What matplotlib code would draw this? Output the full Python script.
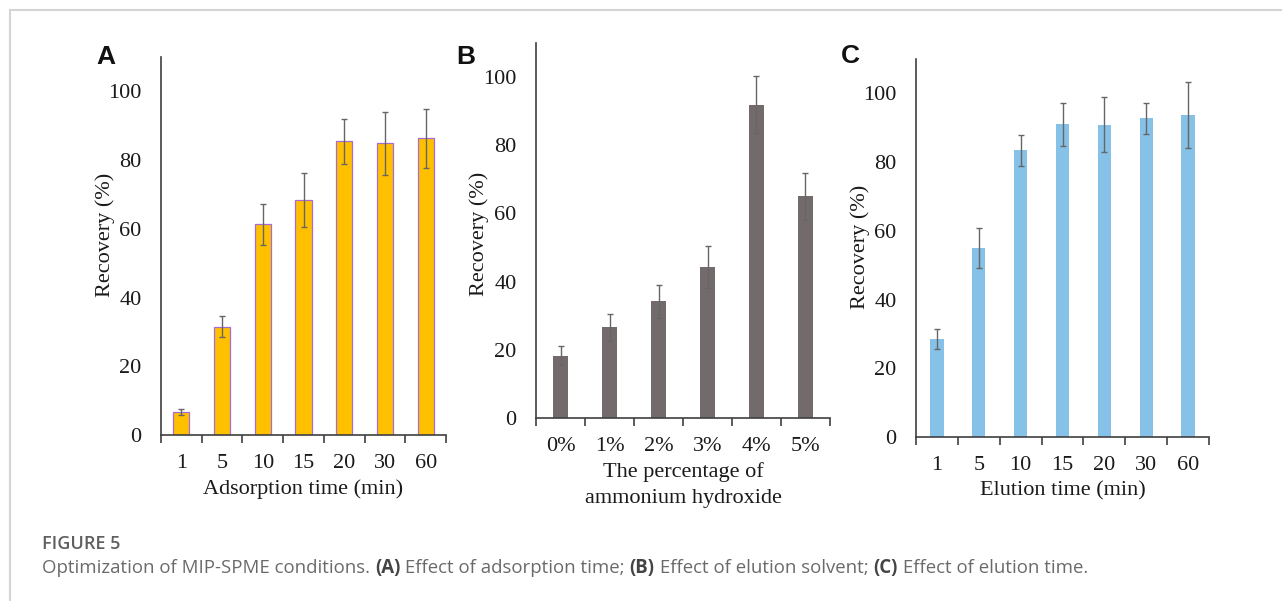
import matplotlib

matplotlib.use('Agg')
import matplotlib.pyplot as plt
from matplotlib.lines import Line2D

# -- data --------------------------------------------------------------------
adsorption_times = ['1', '5', '10', '15', '20', '30', '60']
adsorption_recovery = [6.6, 31.5, 61.3, 68.3, 85.5, 84.9, 86.3]
adsorption_err = [0.9, 3.0, 6.0, 7.8, 6.6, 9.2, 8.7]

nh4oh_levels = ['0%', '1%', '2%', '3%', '4%', '5%']
nh4oh_recovery = [18.3, 26.6, 34.2, 44.3, 91.9, 65.0]
nh4oh_err = [2.7, 3.9, 4.8, 6.1, 8.3, 6.8]

elution_times = ['1', '5', '10', '15', '20', '30', '60']
elution_recovery = [28.4, 55.0, 83.4, 91.0, 90.8, 92.8, 93.6]
elution_err = [2.9, 5.7, 4.4, 6.2, 8.0, 4.5, 9.6]

SERIF = 'Liberation Serif'
TEXT_COLOR = '#1a1a1a'
SPINE_COLOR = '#404040'
FS = 16

W, H = 1282, 601
fig = plt.figure(figsize=(W / 100, H / 100), dpi=100)


def px_axes(left, top, right, bottom):
    return fig.add_axes([left / W, 1 - bottom / H, (right - left) / W, (bottom - top) / H])


def bar_panel(ax, labels, values, errs, color, edge, width, xlabel, ylabel_pos, xlabel_y):
    n = len(labels)
    xs = list(range(n))
    ax.bar(xs, values, width=width, color=color,
           edgecolor=edge if edge else color, linewidth=0.9 if edge else 0)
    ax.errorbar(xs, values, yerr=errs, fmt='none', ecolor='#666666',
                elinewidth=1.0, capsize=2.5, capthick=1.0)
    ax.set_xlim(-0.5, n - 0.5)
    ax.set_ylim(0, 110)
    for s in ('top', 'right'):
        ax.spines[s].set_visible(False)
    for s in ('left', 'bottom'):
        ax.spines[s].set_color(SPINE_COLOR)
        ax.spines[s].set_linewidth(1.2)

    # category boundaries carry the tick marks, labels sit at the centres
    ax.set_xticks([i - 0.5 for i in range(n + 1)])
    ax.set_xticklabels([])
    ax.set_xticks(xs, minor=True)
    ax.set_xticklabels(labels, minor=True)
    ax.tick_params(axis='x', which='major', length=6, width=1.2,
                   color=SPINE_COLOR, direction='out')
    ax.tick_params(axis='x', which='minor', length=0, pad=13.5,
                   labelsize=FS, labelcolor=TEXT_COLOR)

    ax.set_yticks([0, 20, 40, 60, 80, 100])
    ax.tick_params(axis='y', which='major', length=0, pad=14,
                   labelsize=FS, labelcolor=TEXT_COLOR)
    ax.set_yticks([0], minor=True)
    ax.tick_params(axis='y', which='minor', length=6, width=1.2,
                   color=SPINE_COLOR, direction='out', labelleft=False)

    for lab in ax.get_xticklabels(minor=True) + ax.get_yticklabels():
        lab.set_fontfamily(SERIF)

    ax.set_xlabel(xlabel, fontsize=FS, family=SERIF, color=TEXT_COLOR,
                  linespacing=1.5)
    ax.set_ylabel('Recovery (%)', fontsize=FS, family=SERIF, color=TEXT_COLOR)
    ax.yaxis.set_label_coords(*ylabel_pos)
    ax.xaxis.set_label_coords(0.5, xlabel_y)


ax_a = px_axes(161, 57, 446, 435)
bar_panel(ax_a, adsorption_times, adsorption_recovery, adsorption_err,
          '#FFC000', '#A56BD6', 0.4, 'Adsorption time (min)', (-0.163, 0.53), -0.118)

ax_b = px_axes(536, 43, 830, 418)
bar_panel(ax_b, nh4oh_levels, nh4oh_recovery, nh4oh_err,
          '#736B6B', None, 0.32, 'The percentage of\nammonium hydroxide',
          (-0.159, 0.49), -0.118)

ax_c = px_axes(916, 59, 1209, 437)
bar_panel(ax_c, elution_times, elution_recovery, elution_err,
          '#86C2E7', None, 0.32, 'Elution time (min)', (-0.157, 0.503), -0.118)

# panel letters
for letter, x, y in (('A', 106, 57), ('B', 466, 57), ('C', 850, 56)):
    fig.text(x / W, 1 - y / H, letter, ha='center', va='center',
             fontsize=19, fontweight='bold', family='Liberation Sans', color='#111111')

# page frame (top and left rules)
frame_kw = dict(color='#d4d4d4', linewidth=1.5, transform=fig.transFigure)
fig.add_artist(Line2D([10 / W, 1], [1 - 10 / H, 1 - 10 / H], **frame_kw))
fig.add_artist(Line2D([10 / W, 10 / W], [0, 1 - 10 / H], **frame_kw))

# caption
CAP = 'Open Sans'
fig.text(42 / W, 1 - 544 / H, 'FIGURE 5', ha='left', va='center', fontsize=13,
         fontweight='semibold', family=CAP, color='#5f5f5f')

pieces = [
    ('Optimization of MIP-SPME conditions. ', 'normal'),
    ('(A)', 'bold'),
    (' Effect of adsorption time; ', 'normal'),
    ('(B)', 'bold'),
    (' Effect of elution solvent; ', 'normal'),
    ('(C)', 'bold'),
    (' Effect of elution time.', 'normal'),
]
renderer = fig.canvas.get_renderer()
x = 42
for txt, weight in pieces:
    t = fig.text(x / W, 1 - 568 / H, txt, ha='left', va='center', fontsize=13.4,
                 fontweight=weight, family=CAP,
                 color='#444444' if weight == 'bold' else '#6a6a6a')
    x += t.get_window_extent(renderer).width

fig.savefig('out.png', dpi=100)
